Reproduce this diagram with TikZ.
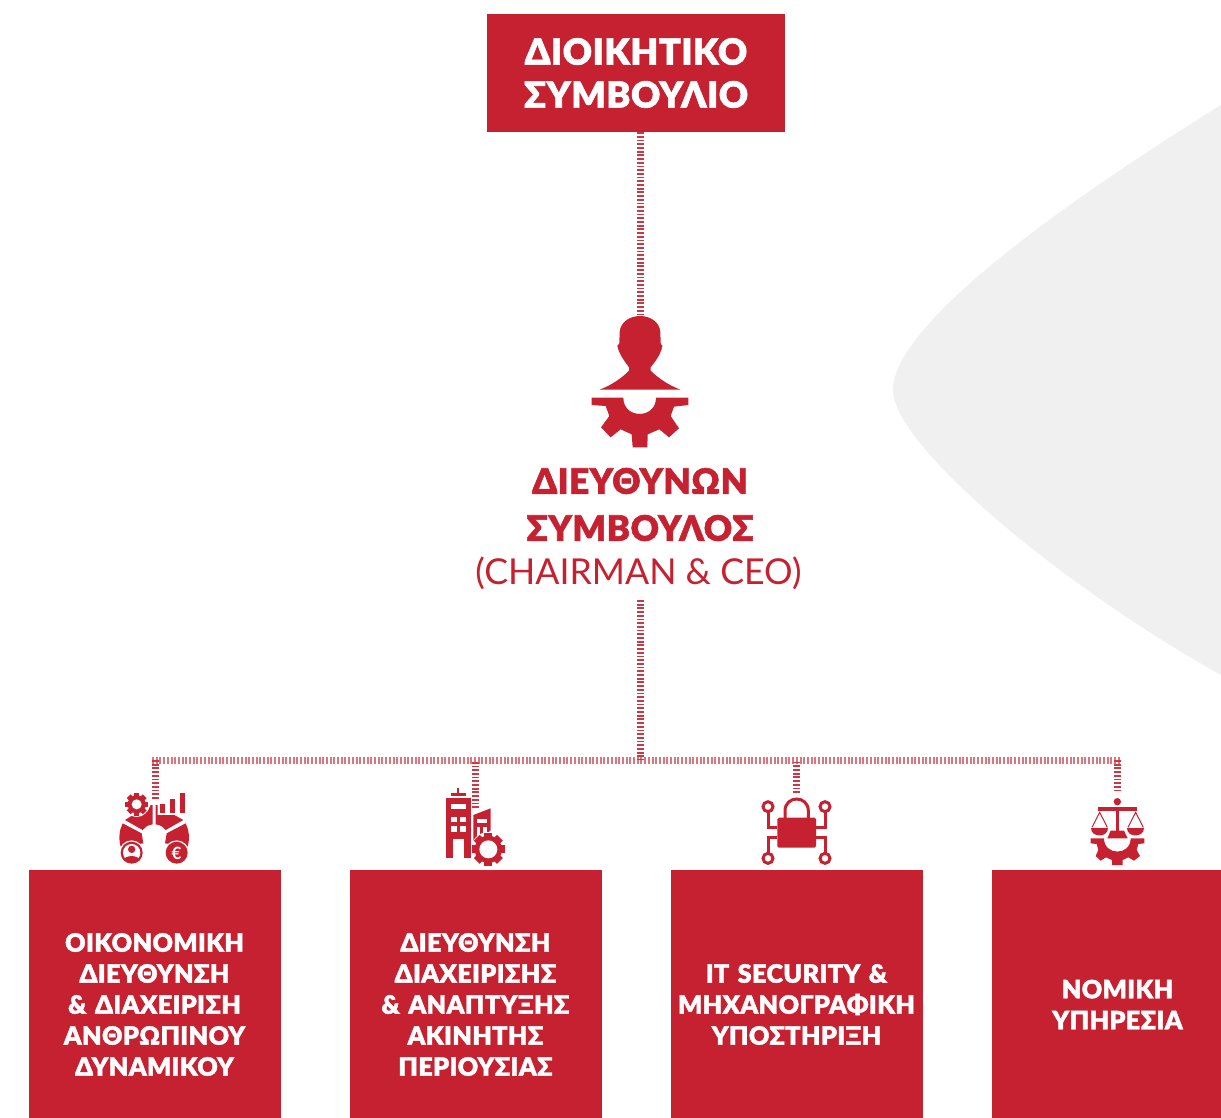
\documentclass[tikz,border=0pt]{standalone}
\usepackage{fontspec}
\setmainfont{Lato}
\newfontfamily\hd[LetterSpace=1.5,FakeBold=1.6]{Lato Black}
\newfontfamily\lt{Lato}
\definecolor{brand}{HTML}{C62130}
\definecolor{blob}{HTML}{F0F0F0}
\tikzset{
 x=1pt,y=-1pt,
 conn/.style={draw=brand!90,line width=7pt,dash pattern=on 1.8pt off 1.9pt},
 bus/.style={draw=brand!62,line width=7pt,dash pattern=on 2pt off 1.7pt},
 redbox/.style={fill=brand,text=white,inner sep=0pt,align=center},
 lowbox/.style={redbox,minimum width=252pt,minimum height=269pt,text width=252pt,font=\hd\fontsize{25.2}{31}\selectfont},
 wire/.style={draw=brand,line width=3pt},
}
\newcommand{\gearshape}[6]{% cx cy Rout Rbody Rhole teeth
 \foreach \a in {1,...,#6}{
  \fill[brand,rotate around={\a*360/#6:(#1,#2)}] (#1-#4*0.3,#2-#3) rectangle (#1+#4*0.3,#2);
 }
 \fill[brand] (#1,#2) circle[radius=#4];
 \fill[white] (#1,#2) circle[radius=#5];
}
\begin{document}
\begin{tikzpicture}
\path[use as bounding box,clip] (0,0) rectangle (1221,1117);
\fill[blob] (1221,105) .. controls (1060,205) and (893,325) .. (893,390)
  .. controls (893,445) and (1060,585) .. (1221,675) -- cycle;
% nodes
\node[redbox,minimum width=298pt,minimum height=118pt,text width=298pt,font=\hd\fontsize{36}{43}\selectfont] (board) at (636,73) {\raisebox{-2pt}{ΔΙΟΙΚΗΤΙΚΟ}\\\raisebox{-2pt}{ΣΥΜΒΟΥΛΙΟ}};
\node[text=brand,inner sep=0pt,align=center,font=\hd\fontsize{35}{47}\selectfont] (ceoname) at (640,504.5) {ΔΙΕΥΘΥΝΩΝ\\ΣΥΜΒΟΥΛΟΣ};
\node[text=brand,inner sep=0pt,font=\lt\fontsize{35.7}{44}\selectfont,minimum height=44pt] (ceorole) at (638.5,573) {(CHAIRMAN \& CEO)};
\node[lowbox] (finance) at (154.5,1004.5) {ΟΙΚΟΝΟΜΙΚΗ\\ΔΙΕΥΘΥΝΣΗ\\\& ΔΙΑΧΕΙΡΙΣΗ\\ΑΝΘΡΩΠΙΝΟΥ\\ΔΥΝΑΜΙΚΟΥ};
\node[lowbox] (estate) at (475.5,1004.5) {ΔΙΕΥΘΥΝΣΗ\\ΔΙΑΧΕΙΡΙΣΗΣ\\\& ΑΝΑΠΤΥΞΗΣ\\ΑΚΙΝΗΤΗΣ\\ΠΕΡΙΟΥΣΙΑΣ};
\node[lowbox] (itsec) at (796.5,1004.5) {IT SECURITY \&\\ΜΗΧΑΝΟΓΡΑΦΙΚΗ\\ΥΠΟΣΤΗΡΙΞΗ};
\node[lowbox] (legal) at (1117.5,1004.5) {ΝΟΜΙΚΗ\\ΥΠΗΡΕΣΙΑ};
% junctions
\coordinate (busmid) at (640,760);
\coordinate (busL) at (152,760);
\coordinate (busR) at (1121,760);
\coordinate (ceotop) at (640,316);
\coordinate (rolebottom) at (640,600);
\coordinate (iconA) at (155,800);
\coordinate (iconB) at (475.5,808);
\coordinate (iconC) at (796.5,793);
\coordinate (iconD) at (1117.5,793);
% connectors
\draw[bus] (busL) -- (busR);
\draw[conn] (board.south -| busmid) -- (ceotop);
\draw[conn] (rolebottom) -- (busmid);
\draw[conn] (iconA |- busL) -- (iconA);
\draw[conn] (iconB) -- (iconB |- busmid);
\draw[conn] (iconC) -- (iconC |- busmid);
\draw[conn] (iconD |- busR) -- (iconD);
% CEO icon
\begin{scope}[shift={(560,300)},scale=0.33333]
 \fill[brand] (118,269) .. controls (150,258) and (185,235) .. (207,212) -- (207,202)
  .. controls (195,185) and (178,165) .. (172,138) -- (178,130)
  -- (179,95) .. controls (182,65) and (210,48) .. (240,48)
  .. controls (270,48) and (298,65) .. (301,95)
  -- (302,130) -- (307,138) .. controls (302,165) and (285,185) .. (272,202) -- (272,212)
  .. controls (295,235) and (330,258) .. (362,269) -- cycle;
 \fill[brand] (95,293) -- (190,293) .. controls (190,358) and (288,358) .. (288,293)
  -- (385,293) -- (385,315) -- (342,320) -- (332,348) -- (357,385) -- (327,412)
  -- (298,388) -- (263,403) -- (262,442) -- (218,442) -- (215,403) -- (182,388)
  -- (152,412) -- (123,382) -- (148,348) -- (137,318) -- (95,315) -- cycle;
\end{scope}
% Finance icon
\begin{scope}[shift={(110,785)},scale=0.33333]
 \fill[brand] (150,58) rectangle (165,85);
 \fill[brand] (180,42) rectangle (195,85);
 \fill[brand] (210,25) rectangle (226,85);
 % hands
 \fill[brand] (45,105) -- (72,88) -- (112,80) -- (122,60) -- (128,60) -- (128,118)
   .. controls (112,120) and (104,127) .. (98,135) -- cycle;
 \fill[brand] (220,105) -- (193,90) -- (143,90) -- (143,60) -- (137,60) -- (137,118)
   .. controls (153,120) and (161,127) .. (167,135) -- cycle;
 \fill[brand] (38,115) -- (95,145) -- (100,175) -- (32,185) .. controls (25,160) and (28,135) .. (38,115) -- cycle;
 \fill[brand] (227,115) -- (170,145) -- (165,175) -- (233,185) .. controls (240,160) and (237,135) .. (227,115) -- cycle;
 \fill[white] (80,58) circle[radius=38];
 \gearshape{80}{58}{34}{27}{15}{8}
 \fill[white] (65,203) circle[radius=37];
 \fill[white] (200,203) circle[radius=37];
 \fill[brand] (65,203) circle[radius=33];
 \fill[white] (65,203) circle[radius=26];
 \fill[brand] (65,193) circle[radius=11];
 \fill[brand] (41,226) .. controls (43,209) and (87,209) .. (89,226) .. controls (79,233) and (51,233) .. (41,226) -- cycle;
 \fill[brand] (200,203) circle[radius=33];
 \node[text=white,inner sep=0pt,font=\bfseries\fontsize{17}{17}\selectfont] (euro) at (200,204) {€};
\end{scope}
% Estate icon
\begin{scope}[shift={(100,750)},scale=0.33333]
 \fill[brand] (1072,115) rectangle (1078,128);
 \fill[brand] (1052,128) rectangle (1097,138);
 \fill[brand] (1037,145) rectangle (1113,325);
 \fill[white] (1060,268) rectangle (1092,326);
 \fill[white] (1052,163) rectangle (1098,178);
 \fill[white] (1052,200) rectangle (1070,217);
 \fill[white] (1080,200) rectangle (1098,217);
 \fill[white] (1052,228) rectangle (1070,245);
 \fill[white] (1080,228) rectangle (1098,245);
 \fill[brand] (1120,195) -- (1172,175) -- (1172,240) -- (1145,270) -- (1120,300) -- cycle;
 \fill[white] (1130,207) rectangle (1162,218);
 \fill[white] (1130,232) rectangle (1140,262);
 \fill[white] (1150,232) rectangle (1160,250);
 \fill[white] (1165,298) circle[radius=52];
 \gearshape{1165}{298}{49}{41}{27}{8}
\end{scope}
% IT icon
\begin{scope}[shift={(740,750)},scale=0.33333]
 \draw[wire] (84,184) -- (84,233) -- (112,233);
 \draw[wire] (255,184) -- (255,233) -- (228,233);
 \draw[wire] (84,311) -- (84,263) -- (112,263);
 \draw[wire] (255,311) -- (255,263) -- (228,263);
 \foreach \cx/\cy in {84/170,255/170,84/325,255/325}{
  \draw[wire,fill=white] (\cx,\cy) circle[radius=15];
 }
 \draw[wire] (135,205) -- (135,183) .. controls (135,135) and (205,135) .. (205,183) -- (205,205);
 \fill[brand,rounded corners=1.5pt] (112,203) rectangle (228,293);
\end{scope}
% Legal icon
\begin{scope}[shift={(740,750)},scale=0.33333]
 \fill[brand] (1132,155) circle[radius=11];
 \fill[brand] (1075,171) rectangle (1190,182);
 \fill[brand] (1127,182) rectangle (1138,242);
 \fill[brand] (1112,242) -- (1152,242) -- (1163,265) -- (1102,265) -- cycle;
 \draw[brand,line width=1pt] (1056,232) -- (1079,187) -- (1102,232);
 \draw[brand,line width=1pt] (1164,232) -- (1187,187) -- (1210,232);
 \fill[brand] (1054,233) .. controls (1054,265) and (1104,265) .. (1104,233) -- cycle;
 \fill[brand] (1162,233) .. controls (1162,265) and (1212,265) .. (1212,233) -- cycle;
 \fill[brand] (1052,265) -- (1092,265) .. controls (1092,318) and (1172,318) .. (1172,265)
  -- (1213,265) -- (1213,280) -- (1195,282) -- (1190,300) -- (1200,318) -- (1182,332)
  -- (1165,322) -- (1148,330) -- (1148,345) -- (1116,345) -- (1116,330) -- (1098,322)
  -- (1082,332) -- (1067,318) -- (1075,300) -- (1070,282) -- (1052,280) -- cycle;
\end{scope}
\end{tikzpicture}
\end{document}
